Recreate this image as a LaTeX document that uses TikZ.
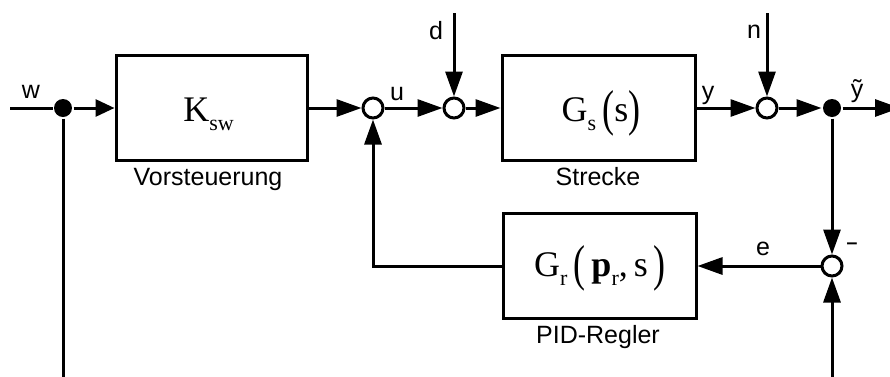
\documentclass[tikz,border=0pt]{standalone}
\usepackage{fontspec}
\setmainfont{Liberation Sans}
\newfontfamily\tms{Liberation Serif}
\usetikzlibrary{arrows.meta}
\newcommand{\mainsz}{\fontsize{18}{18}\selectfont}
\newcommand{\mysub}[1]{\raisebox{-4.5pt}{\fontsize{11}{10}\selectfont #1}}
\newcommand{\myLP}{\raisebox{-2pt}{\scalebox{1}[1.4]{(}}}
\newcommand{\myRP}{\raisebox{-2pt}{\scalebox{1}[1.4]{)}}}
\begin{document}
\begin{tikzpicture}[x=0.5pt,y=-0.5pt,
  line width=1.5pt,
  >={Triangle[length=12.5pt,width=8.5pt]},
  box/.style={draw,rectangle,line width=1.5pt,minimum width=96.5pt,minimum height=52.5pt,inner sep=0pt},
  sumnode/.style={draw,circle,fill=white,minimum size=10pt,inner sep=0pt,line width=1.5pt},
  dotnode/.style={circle,fill=black,minimum size=9pt,inner sep=0pt},
  lbl/.style={font=\fontsize{12.5}{14}\selectfont,inner sep=0pt},
  mtext/.style={inner sep=0pt,anchor=base,font=\tms\mainsz}]
\clip (0,0) rectangle (890,376);
% blocks
\node[box,minimum width=95.5pt] (K) at (211.5,108) {};
\node[box] (G) at (598.5,108) {};
\node[box] (R) at (599.5,266) {};
\node[mtext] (Kt) at (208.5,121) {K\mysub{sw}};
\node[mtext] (Gt) at (601,121) {G\mysub{s}\,\myLP s\myRP};
\node[mtext] (Rt) at (600,276) {G\mysub{r}\,\myLP\,\textbf{p}\mysub{r},\,s\,\myRP};
\node[lbl] (Kl) at (208,179) {Vorsteuerung};
\node[lbl] (Gl) at (598,177) {Strecke};
\node[lbl] (Rl) at (598,337) {PID-Regler};
% summing points and branch dots
\node[sumnode] (s1) at (373,108) {};
\node[sumnode] (s2) at (454,108) {};
\node[sumnode] (s3) at (767,108) {};
\node[sumnode] (s4) at (832,266) {};
\node[dotnode] (d1) at (63,108) {};
\node[dotnode] (d2) at (832,108) {};
% free ends
\coordinate (win) at (10,108);
\coordinate (dtop) at (454,13);
\coordinate (ntop) at (767,13);
\coordinate (yout) at (900,108);
\coordinate (wbot) at (63,390);
\coordinate (ybot) at (832,390);
% connectors
\draw (win) -- (d1);
\draw[-{Triangle[length=9.5pt,width=8.5pt]}] (d1) -- (K);
\draw (d1) -- (wbot);
\draw[->] (K) -- (s1);
\draw[->] (s1) -- (s2);
\draw[->] (dtop) -- (s2);
\draw[->] (s2) -- (G);
\draw[->] (G) -- (s3);
\draw[->] (ntop) -- (s3);
\draw[->] (s3) -- (d2);
\draw[->] (d2) -- (yout);
\draw[->] (d2) -- (s4);
\draw[->] (ybot) -- (s4);
\draw[->] (s4) -- (R);
\draw[->] (R.west) -| (s1.south);
% signal labels
\node[lbl] (lw) at (31,92) {w};
\node[lbl] (lu) at (397,94) {u};
\node[lbl] (ld) at (436,31) {d};
\node[lbl] (ly) at (708,95) {y};
\node[lbl] (ln) at (754,32) {n};
\node[lbl] (lyt) at (857,91) {ỹ};
\node[lbl] (le) at (763,249) {e};
\node[lbl] (lm) at (852,247) {\scalebox{1.6}[1]{-}};
\end{tikzpicture}
\end{document}
